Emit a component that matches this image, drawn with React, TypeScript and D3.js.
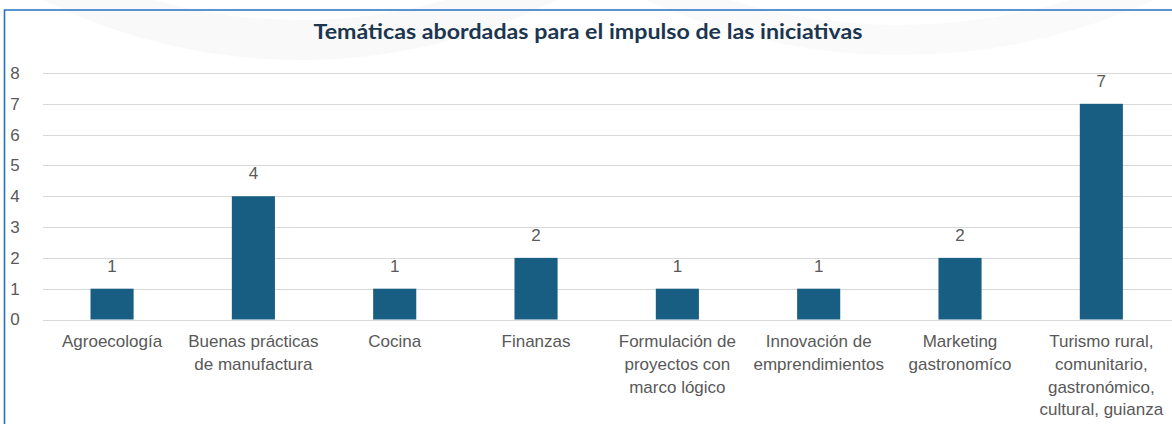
import React, { useEffect, useRef } from "react";
import * as d3 from "d3";

const categories = [
  "Agroecología",
  "Buenas prácticas de manufactura",
  "Cocina",
  "Finanzas",
  "Formulación de proyectos con marco lógico",
  "Innovación de emprendimientos",
  "Marketing gastronomíco",
  "Turismo rural, comunitario, gastronómico, cultural, guianza",
];
// how each category label is broken into lines
const labelLines = [
  ["Agroecología"],
  ["Buenas prácticas", "de manufactura"],
  ["Cocina"],
  ["Finanzas"],
  ["Formulación de", "proyectos con", "marco lógico"],
  ["Innovación de", "emprendimientos"],
  ["Marketing", "gastronomíco"],
  ["Turismo rural,", "comunitario,", "gastronómico,", "cultural, guianza"],
];
const values = [1, 4, 1, 2, 1, 1, 2, 7];
const yTicks = [0, 1, 2, 3, 4, 5, 6, 7, 8];
const title = "Temáticas abordadas para el impulso de las iniciativas";

const W = 1172;
const H = 424;

export default function App() {
  const ref = useRef<SVGSVGElement>(null);

  useEffect(() => {
    const svg = d3.select(ref.current);
    svg.selectAll("*").remove();

    const x = d3.scaleBand<string>()
      .domain(categories)
      .range([41.4, 1172])
      .paddingInner(0.695)
      .paddingOuter(0.3475);
    const y = d3.scaleLinear().domain([0, 8]).range([319.5, 73]);

    svg.append("rect").attr("width", W).attr("height", H).attr("fill", "#fff");

    // faint background shapes
    svg.append("circle").attr("cx", 300).attr("cy", -520).attr("r", 560)
      .attr("fill", "none").attr("stroke", "#f9f9f9").attr("stroke-width", 40);
    svg.append("circle").attr("cx", 900).attr("cy", -560).attr("r", 600)
      .attr("fill", "none").attr("stroke", "#fafafa").attr("stroke-width", 30);

    // frame
    svg.append("path")
      .attr("d", `M4.5,${H} L4.5,10 L${W},10`)
      .attr("fill", "none")
      .attr("stroke", "#2272c3")
      .attr("stroke-width", 1.6);

    // title
    svg.append("text")
      .attr("x", 588)
      .attr("y", 39)
      .attr("text-anchor", "middle")
      .attr("font-family", "Lato, 'Open Sans', sans-serif")
      .attr("font-weight", "bold")
      .attr("font-size", 20)
      .attr("fill", "#1c3650")
      .attr("textLength", 549)
      .attr("lengthAdjust", "spacingAndGlyphs")
      .text(title);

    // gridlines + y labels
    const grid = svg.append("g");
    grid.selectAll("line")
      .data(yTicks)
      .join("line")
      .attr("x1", 43)
      .attr("x2", W)
      .attr("y1", (d) => Math.round(y(d)) + 0.5)
      .attr("y2", (d) => Math.round(y(d)) + 0.5)
      .attr("stroke", "#d9d9d9")
      .attr("stroke-width", 1);
    grid.selectAll("text")
      .data(yTicks)
      .join("text")
      .attr("x", 15)
      .attr("y", (d) => y(d))
      .attr("dy", "0.35em")
      .attr("text-anchor", "middle")
      .attr("font-family", "'Liberation Sans', Arial, sans-serif")
      .attr("font-size", 17)
      .attr("fill", "#595959")
      .text((d) => d);

    // bars
    svg.append("g")
      .selectAll("rect")
      .data(values)
      .join("rect")
      .attr("x", (_d, i) => x(categories[i])!)
      .attr("y", (d) => y(d))
      .attr("width", x.bandwidth())
      .attr("height", (d) => y(0) - y(d))
      .attr("fill", "#175e82");

    // value labels
    svg.append("g")
      .selectAll("text")
      .data(values)
      .join("text")
      .attr("x", (_d, i) => x(categories[i])! + x.bandwidth() / 2)
      .attr("y", (d) => y(d) - 17)
      .attr("text-anchor", "middle")
      .attr("font-family", "'Liberation Sans', Arial, sans-serif")
      .attr("font-size", 17)
      .attr("fill", "#595959")
      .text((d) => d);

    // category labels
    const labels = svg.append("g")
      .selectAll("text")
      .data(categories)
      .join("text")
      .attr("x", (d) => x(d)! + x.bandwidth() / 2)
      .attr("y", 347)
      .attr("text-anchor", "middle")
      .attr("font-family", "'Liberation Sans', Arial, sans-serif")
      .attr("font-size", 17)
      .attr("fill", "#595959");
    labels.each(function (_d, i) {
      const t = d3.select(this);
      labelLines[i].forEach((line, j) => {
        t.append("tspan")
          .attr("x", t.attr("x"))
          .attr("dy", j === 0 ? 0 : 22.8)
          .text(line);
      });
    });
  }, []);

  return (
    <svg
      ref={ref}
      width={W}
      height={H}
      style={{ position: "absolute", left: 0, top: 0 }}
    />
  );
}
